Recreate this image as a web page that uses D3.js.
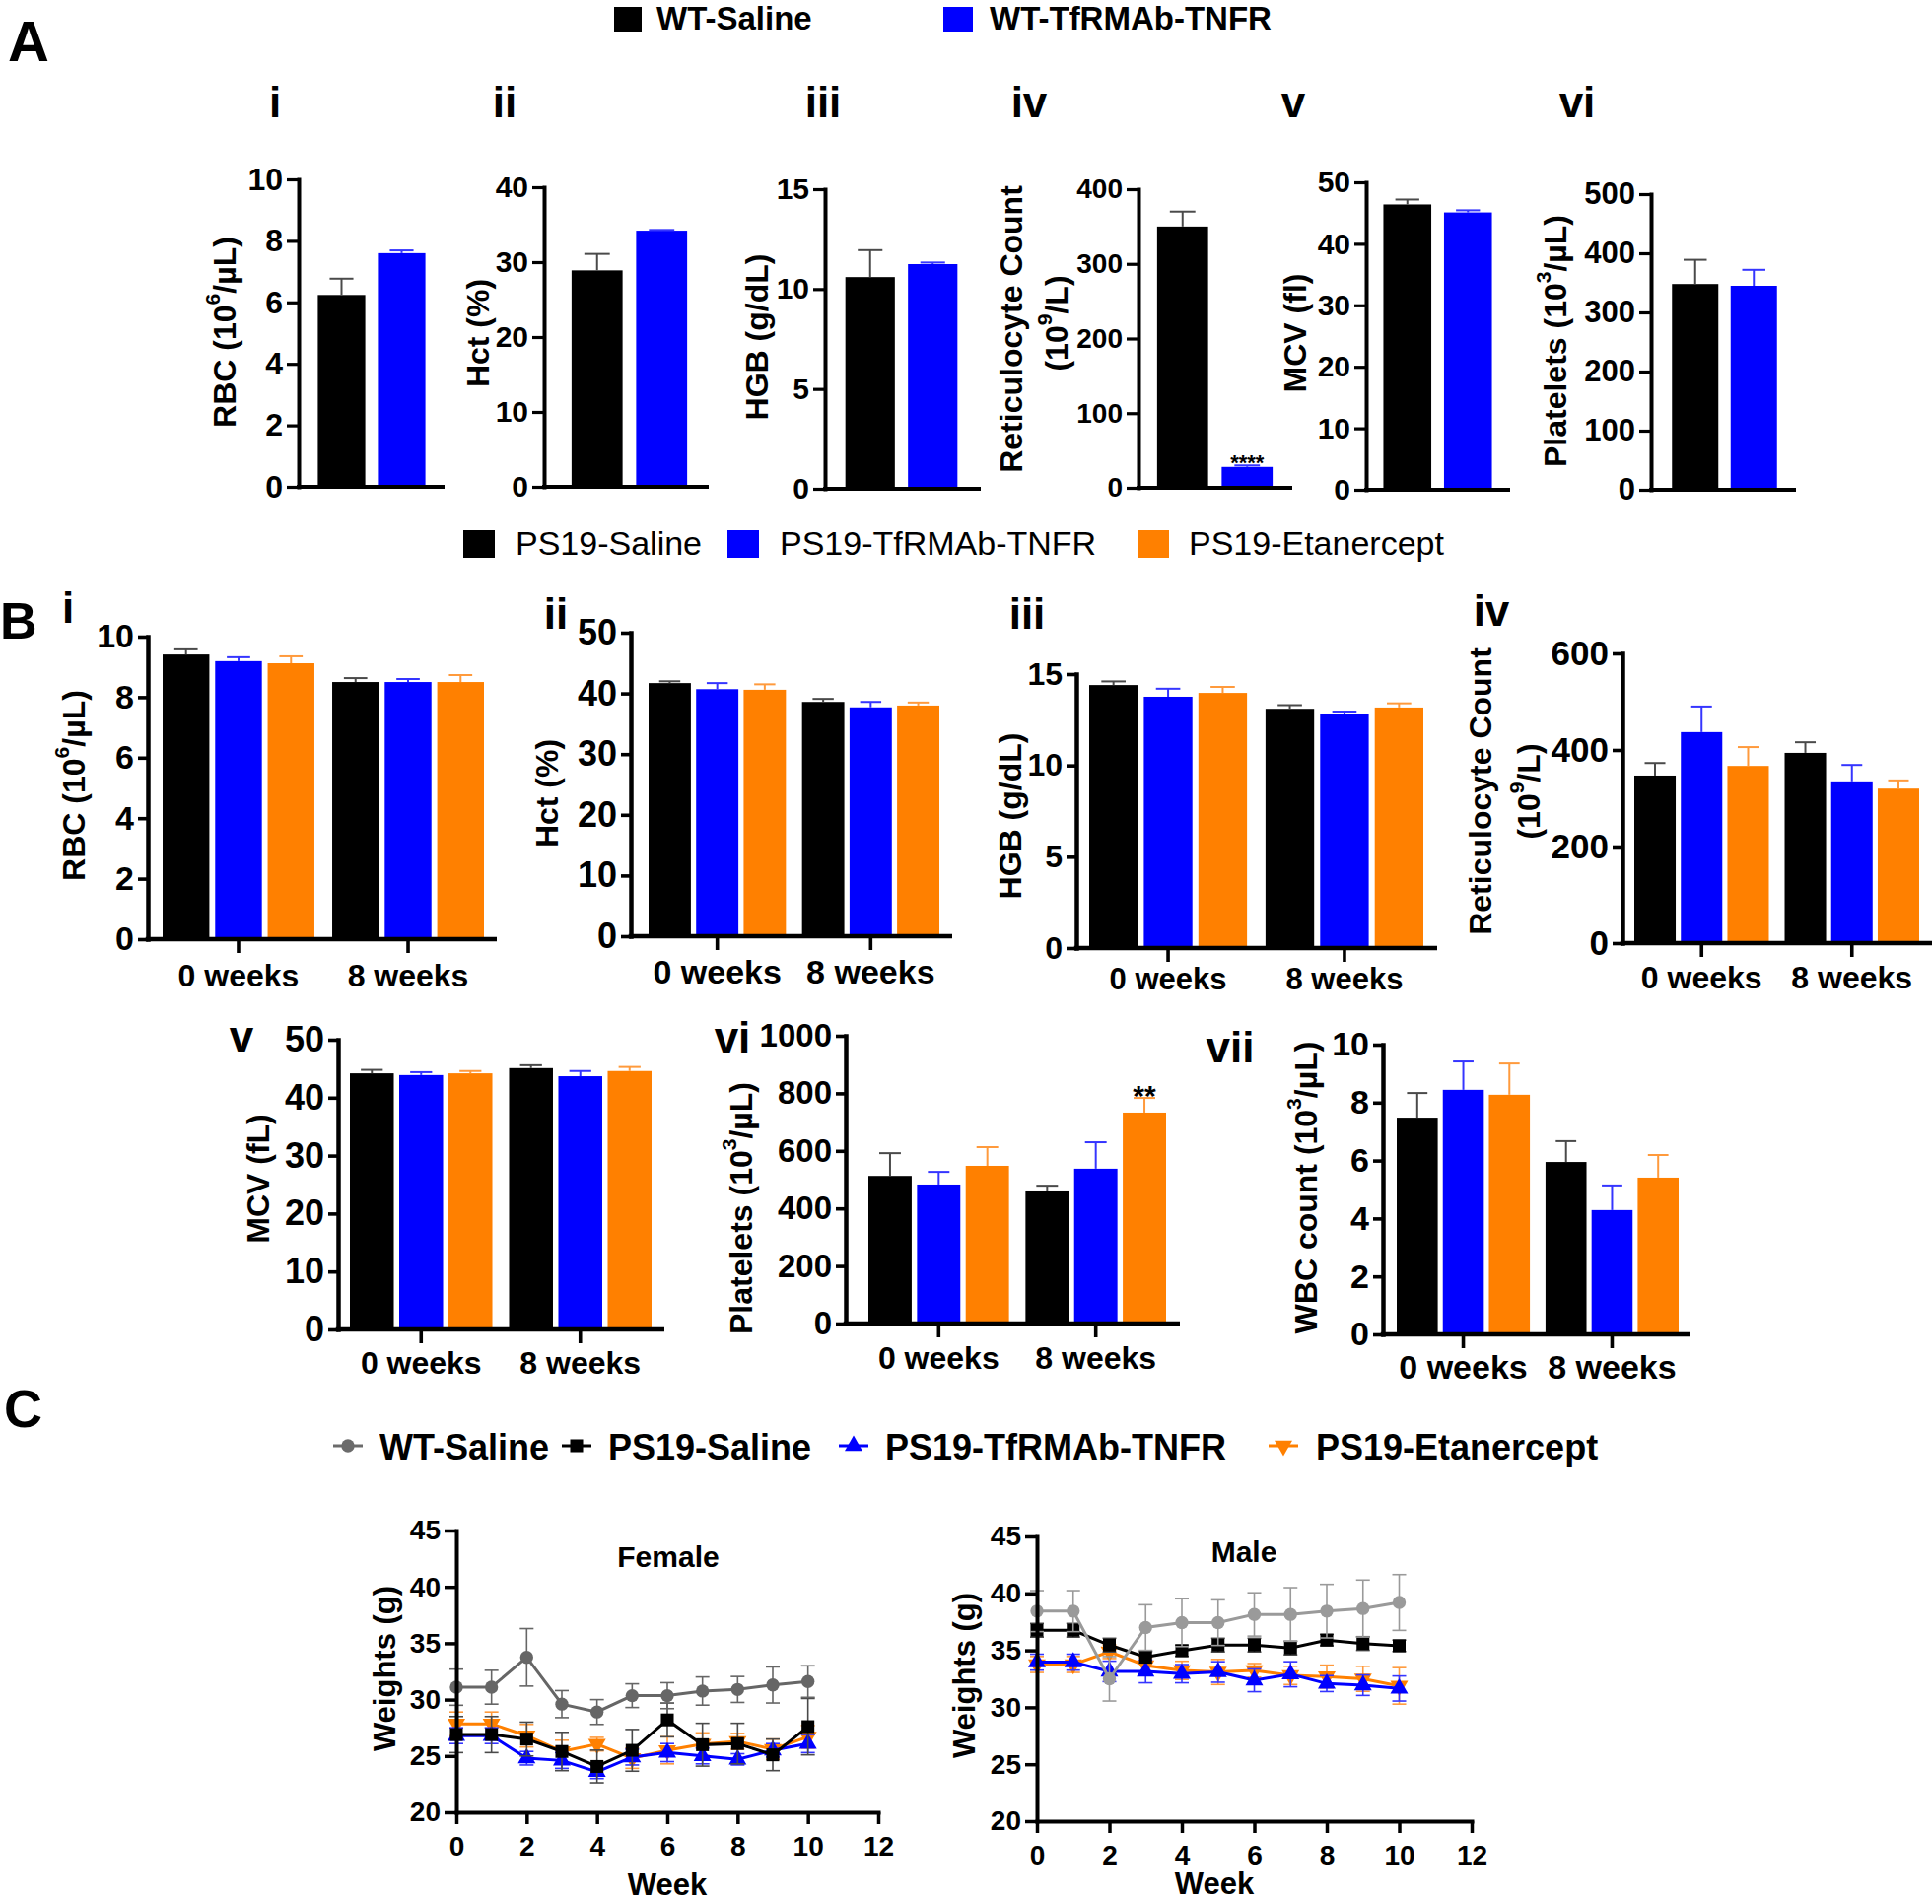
<!DOCTYPE html>
<html><head><meta charset="utf-8">
<script src="https://cdn.jsdelivr.net/npm/d3@7"></script>
<style>body{margin:0;background:#fff;} svg text{font-family:"Liberation Sans",Arial,Helvetica,sans-serif;}</style>
</head><body>
<svg id="fig" width="1960" height="1932"></svg>
<script>
// ---------------- DATA ----------------
const groupsA = ["WT-Saline", "WT-TfRMAb-TNFR"];
const groupsB = ["PS19-Saline", "PS19-TfRMAb-TNFR", "PS19-Etanercept"];
const timepoints = ["0 weeks", "8 weeks"];

// Panel A (WT): means and SEM
const rbcA = [6.24, 7.60], rbcAErr = [0.53, 0.09];
const hctA = [28.9, 34.2], hctAErr = [2.2, 0.1];
const hgbA = [10.6, 11.25], hgbAErr = [1.35, 0.08];
const reticA = [350, 28], reticAErr = [20, 2];
const mcvA = [46.4, 45.1], mcvAErr = [0.8, 0.35];
const pltA = [348, 345], pltAErr = [41, 27];

// Panel B (PS19): [0 weeks], [8 weeks]
const rbcB0 = [9.41, 9.19, 9.12], rbcB0Err = [0.17, 0.13, 0.23];
const rbcB8 = [8.50, 8.50, 8.50], rbcB8Err = [0.13, 0.10, 0.23];
const hctB0 = [41.7, 40.7, 40.6], hctB0Err = [0.3, 1.0, 0.9];
const hctB8 = [38.6, 37.7, 38.0], hctB8Err = [0.5, 0.9, 0.5];
const hgbB0 = [14.4, 13.76, 13.97], hgbB0Err = [0.2, 0.44, 0.33];
const hgbB8 = [13.1, 12.8, 13.17], hgbB8Err = [0.2, 0.15, 0.23];
const reticB0 = [347, 437, 367], reticB0Err = [26, 53, 39];
const reticB8 = [394, 335, 320], reticB8Err = [22, 34, 17];
const mcvB0 = [44.2, 43.9, 44.2], mcvB0Err = [0.6, 0.5, 0.4];
const mcvB8 = [45.1, 43.7, 44.6], mcvB8Err = [0.5, 0.9, 0.7];
const pltB0 = [513, 483, 548], pltB0Err = [79, 44, 65];
const pltB8 = [459, 538, 733], pltB8Err = [20, 92, 51];
const wbcB0 = [7.48, 8.44, 8.27], wbcB0Err = [0.85, 0.98, 1.08];
const wbcB8 = [5.95, 4.29, 5.41], wbcB8Err = [0.72, 0.85, 0.78];

// Panel C: body weights by week
const weeks = [0, 1, 2, 3, 4, 5, 6, 7, 8, 9, 10];
const seriesC = ["WT-Saline", "PS19-Saline", "PS19-TfRMAb-TNFR", "PS19-Etanercept"];
const femWT = [31.1, 31.1, 33.75, 29.6, 28.9, 30.35, 30.35, 30.76, 30.9, 31.3, 31.6];
const femWTErr = [1.6, 1.5, 2.55, 1.2, 1.1, 1.05, 1.15, 1.25, 1.15, 1.6, 1.4];
const femPS = [26.9, 26.9, 26.5, 25.4, 24.07, 25.5, 28.2, 26.0, 26.1, 25.1, 27.6];
const femPSErr = [1.6, 1.6, 1.5, 1.7, 1.45, 1.85, 1.5, 1.9, 1.8, 1.4, 2.5];
const femTf = [26.8, 26.8, 24.8, 24.6, 23.6, 24.9, 25.3, 25.0, 24.7, 25.5, 26.1];
const femTfErr = [0.7, 0.7, 0.6, 0.7, 0.6, 0.7, 0.8, 0.7, 0.5, 0.6, 0.8];
const femEt = [27.85, 27.85, 26.8, 25.4, 26.05, 24.8, 25.5, 26.05, 26.3, 25.6, 26.7];
const femEtErr = [1.05, 1.05, 1.0, 1.0, 0.6, 0.9, 1.2, 1.0, 0.7, 0.9, 1.0];
const malWT = [38.44, 38.44, 32.5, 37.0, 37.43, 37.43, 38.15, 38.15, 38.44, 38.67, 39.2];
const malWTErr = [1.8, 1.8, 1.95, 2.0, 2.1, 2.0, 1.9, 2.35, 2.35, 2.5, 2.45];
const malPS = [36.76, 36.76, 35.46, 34.4, 34.97, 35.46, 35.46, 35.2, 35.9, 35.6, 35.4];
const malPSErr = [0.6, 0.6, 0.6, 0.5, 0.5, 0.6, 0.6, 0.6, 0.5, 0.6, 0.5];
const malTf = [33.96, 33.96, 33.15, 33.15, 32.95, 33.1, 32.37, 32.9, 32.08, 31.94, 31.65];
const malTfErr = [0.7, 0.7, 0.9, 1.0, 0.8, 0.9, 1.0, 1.1, 0.7, 0.9, 1.1];
const malEt = [33.76, 33.76, 34.88, 33.67, 33.24, 33.1, 33.24, 32.8, 32.7, 32.5, 31.88];
const malEtErr = [0.7, 0.7, 0.6, 0.7, 0.8, 1.1, 0.6, 0.8, 1.0, 1.1, 1.6];

// ---------------- STYLE ----------------
const fill = {"WT-Saline": "#000000", "WT-TfRMAb-TNFR": "#0000FF",
  "PS19-Saline": "#000000", "PS19-TfRMAb-TNFR": "#0000FF", "PS19-Etanercept": "#FF8000"};
const errCol = {"WT-Saline": "#4a4a4a", "WT-TfRMAb-TNFR": "#3535ff",
  "PS19-Saline": "#4a4a4a", "PS19-TfRMAb-TNFR": "#3535ff", "PS19-Etanercept": "#ff9a3c"};

const svg = d3.select("#fig");
svg.append("rect").attr("width", 1960).attr("height", 1932).attr("fill", "#fff");

function richText(t, parts, fs) {
  let prevSup = false;
  parts.forEach(p => {
    if (Array.isArray(p)) {
      t.append("tspan").attr("dy", -fs * 0.4).attr("font-size", fs * 0.66).text(p[0]);
      prevSup = true;
    } else {
      const s = t.append("tspan").text(p);
      if (prevSup) s.attr("dy", fs * 0.4);
      prevSup = false;
    }
  });
}

function vLabel(x, y, parts, fs) {
  const t = svg.append("text").attr("transform", `translate(${x},${y}) rotate(-90)`)
    .attr("text-anchor", "middle").attr("dominant-baseline", "central")
    .attr("font-weight", "bold").attr("font-size", fs).attr("fill", "#000");
  richText(t, parts, fs);
}

function plainText(x, y, s, fs, opts = {}) {
  return svg.append("text").attr("x", x).attr("y", y).text(s)
    .attr("font-size", fs).attr("font-weight", opts.weight || "bold")
    .attr("text-anchor", opts.anchor || "start").attr("fill", "#000");
}

function barPanel(o) {
  const g = svg.append("g");
  const y = d3.scaleLinear().domain([0, o.max]).range([o.y0, o.yTop]);
  const outer = d3.scaleBand().domain(o.cats).range(o.barRange).paddingInner(0.105).paddingOuter(0);
  const inner = d3.scaleBand().domain(o.series).range([0, outer.bandwidth()]).paddingInner(o.barPad);
  o.cats.forEach((c, ci) => {
    o.series.forEach((s, si) => {
      const v = o.values[ci][si], e = o.errs[ci][si];
      const x = outer(c) + inner(s), w = inner.bandwidth();
      const cx = x + w / 2, cap = w * 0.5;
      g.append("rect").attr("x", x).attr("y", y(v)).attr("width", w)
        .attr("height", y(0) - y(v)).attr("fill", fill[s]);
      g.append("line").attr("x1", cx).attr("x2", cx).attr("y1", y(v)).attr("y2", y(v + e))
        .attr("stroke", errCol[s]).attr("stroke-width", 2);
      g.append("line").attr("x1", cx - cap / 2).attr("x2", cx + cap / 2).attr("y1", y(v + e)).attr("y2", y(v + e))
        .attr("stroke", errCol[s]).attr("stroke-width", 2);
      if (o.stars && o.stars[ci] && o.stars[ci][si]) {
        g.append("text").attr("x", cx).attr("y", y(v + e) + o.starDy).attr("text-anchor", "middle")
          .attr("font-size", o.starFont).attr("font-weight", "bold").text(o.stars[ci][si]);
      }
    });
  });
  // y axis
  const ya = g.append("g").attr("transform", `translate(${o.axisX},0)`)
    .call(d3.axisLeft(y).tickValues(d3.range(0, o.max + o.step / 2, o.step)).tickSize(o.tick).tickSizeOuter(0).tickPadding(o.tickPad).tickFormat(d3.format("d")));
  ya.select(".domain").attr("stroke-width", o.axisW).attr("stroke-linecap", "square");
  ya.selectAll(".tick line").attr("stroke-width", o.axisW * 0.8);
  ya.selectAll(".tick text").attr("font-size", o.tickFont).attr("font-weight", "bold")
    .attr("font-family", '"Liberation Sans",Arial,sans-serif').attr("fill", "#000");
  // x axis line
  g.append("line").attr("x1", o.axisX - o.axisW / 2).attr("x2", o.xEnd).attr("y1", o.y0).attr("y2", o.y0)
    .attr("stroke", "#000").attr("stroke-width", o.axisW);
  if (o.catLabels) {
    o.cats.forEach(c => {
      const cx = outer(c) + outer.bandwidth() / 2;
      g.append("line").attr("x1", cx).attr("x2", cx).attr("y1", o.y0).attr("y2", o.y0 + 14)
        .attr("stroke", "#000").attr("stroke-width", o.axisW * 0.8);
      g.append("text").attr("x", cx).attr("y", o.catBaseline).attr("text-anchor", "middle")
        .attr("font-size", o.catFont).attr("font-weight", "bold").text(c);
    });
  }
  o.labels.forEach(l => vLabel(l.x, l.y, l.parts, o.labelFont));
}

// ---------------- PANEL A ----------------
plainText(8, 62, "A", 58);
svg.append("rect").attr("x", 623).attr("y", 7).attr("width", 28).attr("height", 25).attr("fill", fill[groupsA[0]]);
plainText(666, 30, groupsA[0], 33);
svg.append("rect").attr("x", 957).attr("y", 7).attr("width", 30).attr("height", 25).attr("fill", fill[groupsA[1]]);
plainText(1004, 30, groupsA[1], 33);

const romanA = [["i", 279], ["ii", 512], ["iii", 835], ["iv", 1044], ["v", 1312], ["vi", 1600]];
romanA.forEach(r => plainText(r[1], 119, r[0], 44, {anchor: "middle"}));

const aCommon = {cats: [""], series: groupsA, barPad: 0.21, tick: 12, tickPad: 4, tickFont: 30, axisW: 4, labelFont: 32};
barPanel({...aCommon, axisX: 303, yTop: 182, y0: 494, max: 10, step: 2, xEnd: 451, barRange: [316, 438],
  tickFont: 32, values: [rbcA], errs: [rbcAErr], labels: [{x: 228, y: 337, parts: ["RBC (10", ["6"], "/µL)"]}]});
barPanel({...aCommon, axisX: 552, yTop: 190, y0: 494, max: 40, step: 10, xEnd: 719, barRange: [573, 704],
  values: [hctA], errs: [hctAErr], labels: [{x: 485, y: 338, parts: ["Hct (%)"]}]});
barPanel({...aCommon, axisX: 837, yTop: 192, y0: 496, max: 15, step: 5, xEnd: 995, barRange: [851, 978],
  values: [hgbA], errs: [hgbAErr], labels: [{x: 768, y: 342, parts: ["HGB (g/dL)"]}]});
barPanel({...aCommon, axisX: 1155, yTop: 192, y0: 495, max: 400, step: 100, xEnd: 1311, barRange: [1167, 1298],
  tickFont: 28, values: [reticA], errs: [reticAErr], stars: [[null, "****"]], starDy: 5, starFont: 22,
  labels: [{x: 1026, y: 334, parts: ["Reticulocyte Count"]}, {x: 1072, y: 328, parts: ["(10", ["9"], "/L)"]}]});
barPanel({...aCommon, axisX: 1386, yTop: 185, y0: 497, max: 50, step: 10, xEnd: 1532, barRange: [1397, 1520],
  values: [mcvA], errs: [mcvAErr], labels: [{x: 1314, y: 338, parts: ["MCV (fl)"]}]});
barPanel({...aCommon, axisX: 1675, yTop: 197, y0: 497, max: 500, step: 100, xEnd: 1822, barRange: [1690, 1809],
  tickFont: 31, values: [pltA], errs: [pltAErr], labels: [{x: 1578, y: 346, parts: ["Platelets (10", ["3"], "/µL)"]}]});

// ---------------- PANEL B ----------------
plainText(0, 648, "B", 52);
const legB = [[470, 523], [738, 791], [1154, 1206]];
groupsB.forEach((s, i) => {
  svg.append("rect").attr("x", legB[i][0]).attr("y", 538).attr("width", 32).attr("height", 28).attr("fill", fill[s]);
  plainText(legB[i][1], 563, s, 34, {weight: "normal"});
});
const romanB = [["i", 69, 632], ["ii", 564, 638], ["iii", 1042, 638], ["iv", 1513, 635], ["v", 245, 1067], ["vi", 743, 1068], ["vii", 1248, 1078]];
romanB.forEach(r => plainText(r[1], r[2], r[0], 44, {anchor: "middle"}));

const bCommon = {cats: timepoints, series: groupsB, barPad: 0.11, tick: 10, tickPad: 4, axisW: 4.5, labelFont: 32, catLabels: true};
barPanel({...bCommon, axisX: 150, yTop: 646, y0: 953, max: 10, step: 2, xEnd: 504, barRange: [165, 491],
  tickFont: 34, catFont: 32, catBaseline: 1001, values: [rbcB0, rbcB8], errs: [rbcB0Err, rbcB8Err],
  labels: [{x: 75, y: 797, parts: ["RBC (10", ["6"], "/µL)"]}]});
barPanel({...bCommon, axisX: 640, yTop: 642, y0: 950, max: 50, step: 10, xEnd: 966, barRange: [658, 953],
  tickFont: 36, catFont: 34, catBaseline: 998, values: [hctB0, hctB8], errs: [hctB0Err, hctB8Err],
  labels: [{x: 555, y: 805, parts: ["Hct (%)"]}]});
barPanel({...bCommon, axisX: 1092, yTop: 684, y0: 962, max: 15, step: 5, xEnd: 1458, barRange: [1105, 1444],
  tickFont: 32, catFont: 31, catBaseline: 1004, values: [hgbB0, hgbB8], errs: [hgbB0Err, hgbB8Err],
  labels: [{x: 1025, y: 828, parts: ["HGB (g/dL)"]}]});
barPanel({...bCommon, axisX: 1646, yTop: 663, y0: 957, max: 600, step: 200, xEnd: 1960, barRange: [1658, 1947],
  tickFont: 35, catFont: 32, catBaseline: 1003, values: [reticB0, reticB8], errs: [reticB0Err, reticB8Err],
  labels: [{x: 1502, y: 803, parts: ["Reticulocyte Count"]}, {x: 1551, y: 803, parts: ["(10", ["9"], "/L)"]}]});
barPanel({...bCommon, axisX: 343, yTop: 1055, y0: 1349, max: 50, step: 10, xEnd: 674, barRange: [355, 661],
  tickFont: 36, catFont: 32, catBaseline: 1394, values: [mcvB0, mcvB8], errs: [mcvB0Err, mcvB8Err],
  labels: [{x: 262, y: 1196, parts: ["MCV (fL)"]}]});
barPanel({...bCommon, axisX: 858, yTop: 1051, y0: 1343, max: 1000, step: 200, xEnd: 1197, barRange: [881, 1183],
  tickFont: 33, catFont: 32, catBaseline: 1389, values: [pltB0, pltB8], errs: [pltB0Err, pltB8Err],
  stars: [null, [null, null, "**"]], starDy: 8, starFont: 30,
  labels: [{x: 752, y: 1226, parts: ["Platelets (10", ["3"], "/µL)"]}]});
barPanel({...bCommon, axisX: 1403, yTop: 1060, y0: 1354, max: 10, step: 2, xEnd: 1715, barRange: [1417, 1703],
  tickFont: 34, catFont: 34, catBaseline: 1399, values: [wbcB0, wbcB8], errs: [wbcB0Err, wbcB8Err],
  labels: [{x: 1325, y: 1205, parts: ["WBC count (10", ["3"], "/µL)"]}]});

// ---------------- PANEL C ----------------
plainText(4, 1448, "C", 54);
const markerType = {"WT-Saline": "circle", "PS19-Saline": "square", "PS19-TfRMAb-TNFR": "up", "PS19-Etanercept": "down"};
const lineCol = {"WT-Saline": "#6b6b6b", "PS19-Saline": "#000000", "PS19-TfRMAb-TNFR": "#0000FF", "PS19-Etanercept": "#FF8000"};

function marker(g, type, x, y, col) {
  let sym, size, rot = 0;
  if (type === "circle") { sym = d3.symbolCircle; size = 140; }
  else if (type === "square") { sym = d3.symbolSquare; size = 170; }
  else { sym = d3.symbolTriangle; size = 140; if (type === "down") rot = 180; }
  g.append("path").attr("d", d3.symbol().type(sym).size(size)())
    .attr("transform", `translate(${x},${y}) rotate(${rot})`).attr("fill", col);
}

const legC = [[338, 385], [570, 617], [851, 898], [1287, 1335]];
seriesC.forEach((s, i) => {
  const [lx, tx] = legC[i];
  svg.append("line").attr("x1", lx).attr("x2", lx + 30).attr("y1", 1467).attr("y2", 1467)
    .attr("stroke", lineCol[s]).attr("stroke-width", 3);
  marker(svg, markerType[s], lx + 15, 1467, lineCol[s]);
  plainText(tx, 1481, s, 36);
});

function linePanel(o) {
  const g = svg.append("g");
  const x = d3.scaleLinear().domain([0, 12]).range([o.x0, o.x12]);
  const y = d3.scaleLinear().domain([20, 45]).range([o.y20, o.y45]);
  const order = [3, 2, 1, 0];
  order.forEach(i => {
    const s = seriesC[i], vals = o.data[i], errs = o.errs[i];
    const col = (i === 0) ? o.wtCol : lineCol[s];
    const ecol = (i === 0) ? o.wtCol : errCol[s] || col;
    weeks.forEach((w, k) => {
      const cx = x(w), lo = y(vals[k] - errs[k]), hi = y(vals[k] + errs[k]);
      g.append("line").attr("x1", cx).attr("x2", cx).attr("y1", lo).attr("y2", hi).attr("stroke", ecol).attr("stroke-width", 1.6);
      [lo, hi].forEach(yy => g.append("line").attr("x1", cx - 7).attr("x2", cx + 7).attr("y1", yy).attr("y2", yy)
        .attr("stroke", ecol).attr("stroke-width", 1.6));
    });
    g.append("path").datum(weeks.map((w, k) => [w, vals[k]]))
      .attr("d", d3.line().x(d => x(d[0])).y(d => y(d[1])))
      .attr("fill", "none").attr("stroke", col).attr("stroke-width", 3);
    weeks.forEach((w, k) => marker(g, markerType[s], x(w), y(vals[k]), col));
  });
  const ya = g.append("g").attr("transform", `translate(${o.x0},0)`)
    .call(d3.axisLeft(y).tickValues([20, 25, 30, 35, 40, 45]).tickSize(12).tickSizeOuter(0).tickPadding(4));
  const xa = g.append("g").attr("transform", `translate(0,${o.y20})`)
    .call(d3.axisBottom(x).tickValues([0, 2, 4, 6, 8, 10, 12]).tickSize(12).tickSizeOuter(0).tickPadding(12));
  [ya, xa].forEach(a => {
    a.select(".domain").attr("stroke-width", 4).attr("stroke-linecap", "square");
    a.selectAll(".tick line").attr("stroke-width", 3.5);
    a.selectAll(".tick text").attr("font-size", 28).attr("font-weight", "bold")
      .attr("font-family", '"Liberation Sans",Arial,sans-serif').attr("fill", "#000");
  });
  plainText(o.titleX, o.titleY, o.title, 30, {anchor: "middle"});
  plainText(o.weekX, o.weekY, "Week", 31, {anchor: "middle"});
  vLabel(o.labX, o.labY, ["Weights (g)"], 31);
}

linePanel({x0: 463, x12: 891, y20: 1839, y45: 1553, wtCol: "#666666",
  data: [femWT, femPS, femTf, femEt], errs: [femWTErr, femPSErr, femTfErr, femEtErr],
  title: "Female", titleX: 678, titleY: 1590, weekX: 677, weekY: 1923, labX: 390, labY: 1693});
linePanel({x0: 1052, x12: 1493, y20: 1848, y45: 1559, wtCol: "#9a9a9a",
  data: [malWT, malPS, malTf, malEt], errs: [malWTErr, malPSErr, malTfErr, malEtErr],
  title: "Male", titleX: 1262, titleY: 1585, weekX: 1232, weekY: 1922, labX: 978, labY: 1700});
</script>
</body></html>
